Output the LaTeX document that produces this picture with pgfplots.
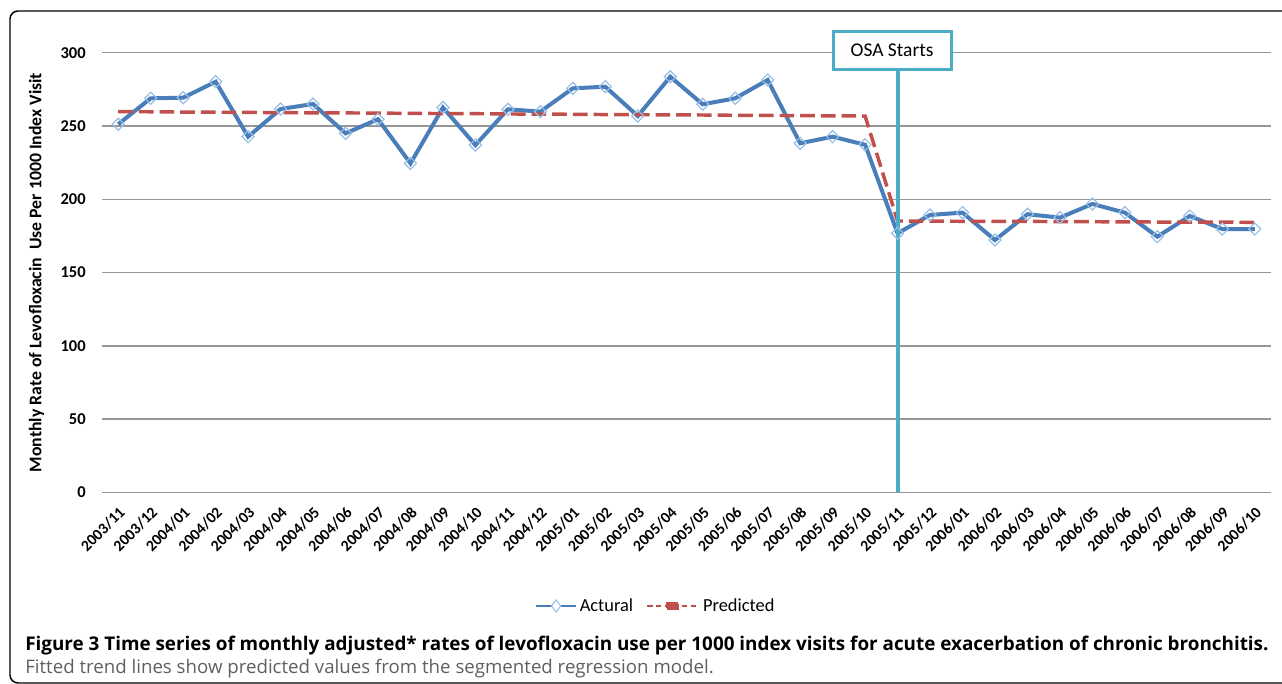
\documentclass[border=0pt]{standalone}
\usepackage{fontspec}
\setmainfont{Carlito}
\newfontfamily\capfont{Open Sans}
\usepackage{pgfplots}
\pgfplotsset{compat=1.18}
\definecolor{actblue}{RGB}{74,126,187}
\definecolor{mkblue}{RGB}{150,190,230}
\definecolor{predred}{RGB}{192,80,77}
\definecolor{osacyan}{RGB}{75,172,198}
\definecolor{gridgray}{RGB}{150,150,150}
\definecolor{capgray}{RGB}{95,95,95}
\begin{document}
\begin{tikzpicture}
\begin{axis}[
  scale only axis, width=876.75pt, height=329.85pt,
  xmin=-0.5, xmax=35.5, ymin=0, ymax=300,
  clip=false,
  ytick={0,50,...,300},
  xtick={0,...,35},
  xticklabels={2003/11,2003/12,2004/01,2004/02,2004/03,2004/04,2004/05,2004/06,2004/07,2004/08,2004/09,2004/10,2004/11,2004/12,2005/01,2005/02,2005/03,2005/04,2005/05,2005/06,2005/07,2005/08,2005/09,2005/10,2005/11,2005/12,2006/01,2006/02,2006/03,2006/04,2006/05,2006/06,2006/07,2006/08,2006/09,2006/10},
  axis line style={draw=none},
  major tick length=0pt,
  tick style={draw=none},
  ymajorgrids, grid style={gridgray, line width=1.1pt},
  /pgf/number format/assume math mode=true,
  yticklabel style={font=\bfseries\fontsize{12.4}{14}\selectfont, anchor=east, inner sep=0pt, xshift=-12pt},
  xticklabel style={font=\bfseries\fontsize{11.8}{13}\selectfont, xshift=3pt, yshift=-13pt, rotate=45, anchor=east, inner sep=0pt},
  ylabel={Monthly Rate of Levofloxacin\ \ Use Per 1000 Index Visit},
  ylabel style={font=\bfseries\fontsize{13.3}{15}\selectfont, at={(axis description cs:-0.056,0.5)}, anchor=center},
  legend columns=2,
  legend style={at={(axis description cs:0.474,-0.258)}, anchor=center, draw=none, fill=none,
    font=\fontsize{13.8}{15}\selectfont, /tikz/every even column/.append style={column sep=8pt}},
]
\addplot[actblue, line width=3pt, mark=square, mark size=3.2pt,
  mark options={draw=mkblue, line width=0.9pt, fill=none, solid, rotate=45},
  legend image code/.code={
    \draw[actblue, line width=1.5pt] (0pt,0pt) -- (30pt,0pt);
    \path[draw=mkblue, fill=white, line width=0.8pt] (15pt,4.5pt) -- (18.4pt,0pt) -- (15pt,-4.5pt) -- (11.6pt,0pt) -- cycle;
  }] coordinates {
(0,251.2) (1,268.9) (2,269.3) (3,280.2) (4,242.7) (5,261.6) (6,265.0) (7,245.0) (8,254.6) (9,224.5)
(10,262.6) (11,237.0) (12,261.4) (13,259.8) (14,275.7) (15,276.8) (16,256.8) (17,283.6) (18,264.8) (19,268.9)
(20,281.4) (21,238.2) (22,242.7) (23,237.2) (24,176.8) (25,189.3) (26,190.9) (27,172.2) (28,189.8) (29,187.5)
(30,196.8) (31,190.9) (32,174.5) (33,188.6) (34,179.7) (35,179.7)
};
\addlegendentry{Actural}
\addplot[predred, line width=2.6pt, dash pattern=on 11pt off 4.5pt,
  legend image code/.code={
    \draw[predred, line width=1.5pt, dash pattern=on 4pt off 2.5pt] (0pt,0pt) -- (39pt,0pt);
    \fill[predred] (15pt,-1.5pt) rectangle (24pt,1.5pt);
  }] coordinates {
(0,259.8) (1,259.7) (2,259.5) (3,259.4) (4,259.3) (5,259.1) (6,259.0) (7,258.9) (8,258.8) (9,258.6)
(10,258.5) (11,258.4) (12,258.2) (13,258.1) (14,258.0) (15,257.8) (16,257.7) (17,257.6) (18,257.5) (19,257.3)
(20,257.2) (21,257.1) (22,256.9) (23,256.8) (24,185.2) (25,185.1) (26,185.0) (27,184.9) (28,184.9) (29,184.8)
(30,184.7) (31,184.6) (32,184.5) (33,184.5) (34,184.4) (35,184.3)
};
\addlegendentry{Predicted}
\draw[osacyan, line width=3pt] (axis cs:24,0) -- (axis cs:24,288);
\node[draw=osacyan, line width=2.2pt, fill=white, minimum width=88.5pt, minimum height=28.5pt, inner sep=0pt,
  font=\fontsize{14.6}{16}\selectfont] at (axis cs:23.83,301.8) {OSA Starts};
\end{axis}
\begin{scope}[x=0.75pt,y=0.75pt,shift={(-102,-191.5)}]
\useasboundingbox (0,0) rectangle (1282,684);
\draw[line width=1.1pt, rounded corners=6pt] (1300,1) -- (10,1) -- (10,673) -- (1300,673);
\node[anchor=base west, inner sep=0pt, font=\capfont\bfseries\fontsize{14.15}{16}\selectfont] at (25,33)
  {Figure 3 Time series of monthly adjusted* rates of levofloxacin use per 1000 index visits for acute exacerbation of chronic bronchitis.};
\node[anchor=base west, inner sep=0pt, text=capgray, font=\capfont\fontsize{14}{16}\selectfont] at (25,10)
  {Fitted trend lines show predicted values from the segmented regression model.};
\end{scope}
\end{tikzpicture}
\end{document}
